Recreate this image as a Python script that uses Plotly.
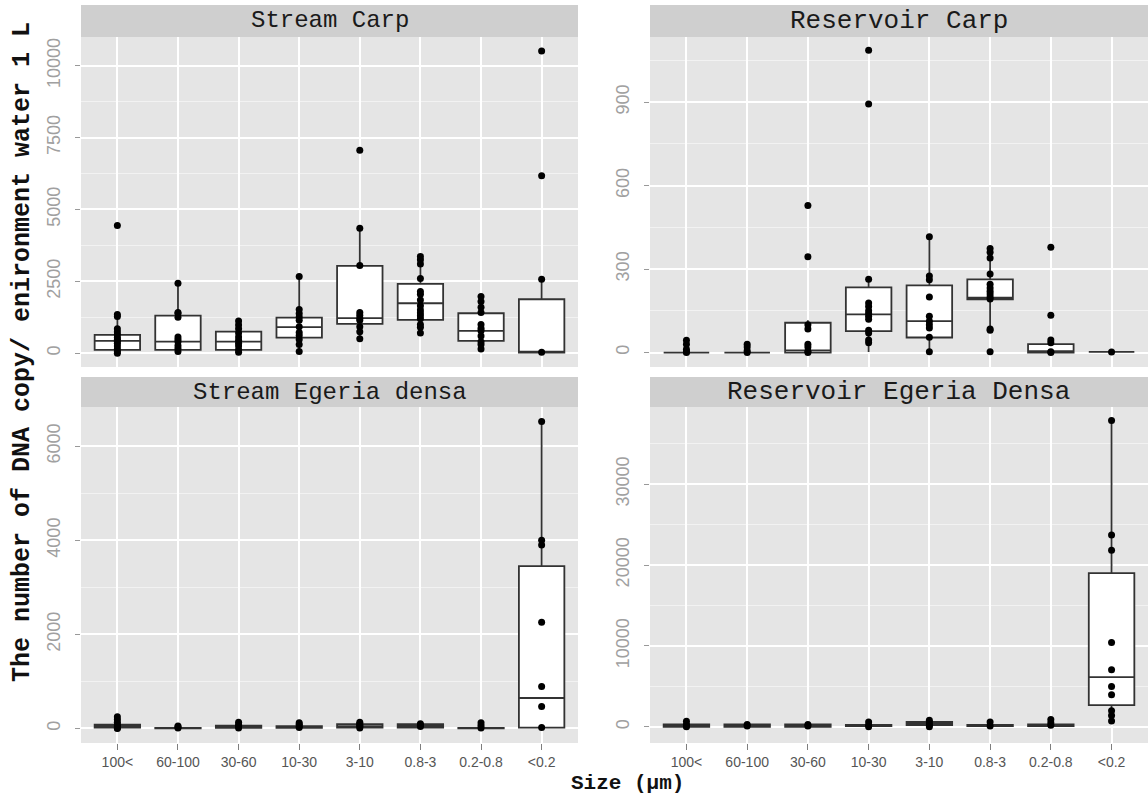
import plotly.graph_objects as go

W, H = 1148, 796

categories = ["100<", "60-100", "30-60", "10-30", "3-10", "0.8-3", "0.2-0.8", "<0.2"]
tick_text = [c.replace("<", "&lt;") for c in categories]

panel_titles = ["Stream Carp", "Reservoir Carp", "Stream Egeria densa", "Reservoir Egeria Densa"]

# ---- Stream Carp ----
sc_q1 = [116, 116, 116, 545, 1020, 1159, 429, 20]
sc_med = [429, 405, 405, 904, 1217, 1738, 776, 30]
sc_q3 = [637, 1309, 753, 1240, 3036, 2410, 1390, 1877]
sc_lo = [0, 50, 0, 58, 500, 695, 116, 0]
sc_hi = [1298, 2433, 1100, 2665, 4345, 3360, 1970, 2572]
sc_pts = [
    [4440, 1350, 1280, 850, 750, 650, 550, 480, 420, 350, 250, 150, 60, 0],
    [2430, 1420, 1380, 1250, 560, 480, 400, 260, 160, 60],
    [1120, 980, 850, 700, 560, 450, 350, 250, 120, 30],
    [2665, 1520, 1380, 1260, 1150, 920, 720, 620, 480, 300, 60],
    [7057, 4345, 3050, 1420, 1320, 1220, 1150, 920, 750, 500],
    [3360, 3250, 3100, 2600, 2150, 2050, 1850, 1650, 1500, 1400, 1300, 1200, 1000, 900, 700],
    [1970, 1800, 1600, 1420, 1000, 870, 780, 600, 400, 300, 150],
    [10510, 6176, 2572, 30],
]

# ---- Reservoir Carp ----
rc_q1 = [0, 0, 0, 77, 54, 191, 0, 2]
rc_med = [0, 0, 8, 137, 113, 197, 5, 2]
rc_q3 = [0, 0, 107, 234, 241, 263, 30, 2]
rc_lo = [0, 0, 0, 2, 2, 85, 0, 2]
rc_hi = [44, 30, 116, 263, 416, 374, 45, 2]
rc_pts = [
    [44, 30, 12, 3, 0],
    [30, 20, 6, 0],
    [528, 344, 100, 85, 30, 20, 5, 0],
    [1086, 893, 263, 178, 165, 150, 140, 130, 120, 80, 70, 45, 35],
    [416, 275, 262, 200, 130, 112, 100, 88, 55, 3],
    [374, 360, 340, 282, 245, 232, 220, 210, 200, 192, 85, 80, 3],
    [378, 134, 45, 35, 3, 0],
    [2],
]

# ---- Stream Egeria densa ----
se_q1 = [15, 0, 10, 10, 15, 20, 0, 15]
se_med = [45, 5, 30, 30, 50, 55, 5, 647]
se_q3 = [80, 10, 60, 50, 90, 90, 10, 3453]
se_lo = [0, 0, 0, 0, 0, 0, 0, 0]
se_hi = [180, 50, 120, 120, 130, 100, 60, 6525]
se_pts = [
    [250, 190, 130, 80, 50, 30, 10, 0],
    [50, 30, 10],
    [130, 80, 40, 10],
    [120, 90, 50, 20],
    [130, 100, 70, 40, 10],
    [100, 70, 40],
    [120, 60, 10],
    [6525, 4000, 3900, 2259, 892, 468, 20],
]

# ---- Reservoir Egeria Densa ----
re_q1 = [0, 0, 0, 100, 200, 100, 100, 2678]
re_med = [100, 100, 100, 200, 400, 200, 200, 6151]
re_q3 = [300, 300, 300, 250, 600, 250, 300, 19000]
re_lo = [0, 0, 0, 0, 0, 0, 0, 711]
re_hi = [700, 300, 300, 600, 800, 600, 900, 37866]
re_pts = [
    [700, 300, 100, 0],
    [300, 100],
    [300, 100],
    [600, 200, 0],
    [800, 500, 200, 0],
    [600, 100],
    [900, 500, 200],
    [37866, 23724, 21840, 10418, 7071, 4979, 3975, 2000, 1400, 711],
]

y_ranges = [[-480, 11000], [-52, 1134], [-310, 6835], [-2000, 39540]]
y_dtick = [2500, 300, 2000, 10000]

panels = [
    (sc_q1, sc_med, sc_q3, sc_lo, sc_hi, sc_pts),
    (rc_q1, rc_med, rc_q3, rc_lo, rc_hi, rc_pts),
    (se_q1, se_med, se_q3, se_lo, se_hi, se_pts),
    (re_q1, re_med, re_q3, re_lo, re_hi, re_pts),
]

# layout in pixels
col_x = [(81, 578), (650, 1148)]
row_plot = [(37, 367), (407, 743)]
row_strip = [(5, 37), (377, 407)]

fig = go.Figure()

MONO = "Liberation Mono, Courier New, monospace"
SANS = "Liberation Sans, Arial, sans-serif"
NARROW = "Liberation Sans Narrow, Arial Narrow, Liberation Sans, sans-serif"

for i, (q1, med, q3, lo, hi, pts) in enumerate(panels):
    r, c = divmod(i, 2)
    sfx = "" if i == 0 else str(i + 1)
    xa, ya = "x" + sfx, "y" + sfx
    fig.add_trace(go.Box(
        x=categories, q1=q1, median=med, q3=q3, lowerfence=lo, upperfence=hi,
        xaxis=xa, yaxis=ya, width=0.75, whiskerwidth=0,
        fillcolor="white", line=dict(color="#333333", width=1.8),
        boxpoints=False, showlegend=False, hoverinfo="skip",
    ))
    xs, ys = [], []
    for cat, vals in zip(categories, pts):
        xs += [cat] * len(vals)
        ys += vals
    fig.add_trace(go.Scatter(
        x=xs, y=ys, mode="markers", xaxis=xa, yaxis=ya,
        marker=dict(color="black", size=7), showlegend=False, hoverinfo="skip",
    ))

    x0, x1 = col_x[c]
    py0, py1 = row_plot[r]
    sy0, sy1 = row_strip[r]
    xdom = [x0 / W, x1 / W]
    ydom = [1 - py1 / H, 1 - py0 / H]

    fig.layout["xaxis" + sfx] = dict(
        domain=xdom, anchor=ya, type="category",
        categoryorder="array", categoryarray=categories,
        range=[-0.6, 7.6], showgrid=True, gridcolor="white", gridwidth=1.5,
        zeroline=False, showline=False,
        tickvals=categories, ticktext=tick_text,
        showticklabels=(r == 1), ticks="outside" if r == 1 else "",
        ticklen=6, tickcolor="#7f7f7f", tickwidth=1.2,
        tickfont=dict(family=NARROW, size=14, color="#555555"),
        automargin=False, fixedrange=True,
    )
    fig.layout["yaxis" + sfx] = dict(
        domain=ydom, anchor=xa, range=y_ranges[i],
        tickmode="linear", tick0=0, dtick=y_dtick[i], tickformat="d",
        showgrid=True, gridcolor="white", gridwidth=1.5,
        minor=dict(dtick=y_dtick[i] / 2, tick0=0, showgrid=True,
                   gridcolor="#F2F2F2", gridwidth=1, ticks=""),
        zeroline=False, showline=False,
        ticks="outside", ticklen=5, tickcolor="#999999", tickwidth=1.2,
        tickangle=-90, ticklabelstandoff=8,
        tickfont=dict(family=SANS, size=18, color="#a0a0a0"),
        automargin=False, fixedrange=True,
    )

    # strip
    fig.add_shape(type="rect", xref="paper", yref="paper",
                  x0=x0 / W, x1=x1 / W, y0=1 - sy1 / H, y1=1 - sy0 / H,
                  fillcolor="#CFCFCF", line=dict(width=0), layer="below")
    fig.add_annotation(text=panel_titles[i], xref="paper", yref="paper",
                       x=(x0 + x1) / 2 / W, y=1 - (sy0 + sy1) / 2 / H,
                       xanchor="center", yanchor="middle", showarrow=False,
                       font=dict(family=MONO, size=24 if c == 0 else 26, color="#1a1a1a"))

# axis titles
fig.add_annotation(text="<b>The number of DNA copy/ enironment water 1 L</b>",
                   xref="paper", yref="paper", x=22 / W, y=1 - 352 / H,
                   xanchor="center", yanchor="middle", textangle=-90, showarrow=False,
                   font=dict(family=MONO, size=25, color="#111111"))
fig.add_annotation(text="<b>Size (µm)</b>",
                   xref="paper", yref="paper", x=628 / W, y=1 - 783 / H,
                   xanchor="center", yanchor="middle", showarrow=False,
                   font=dict(family=MONO, size=21, color="#111111"))

fig.update_layout(
    width=W, height=H, margin=dict(l=0, r=0, t=0, b=0),
    paper_bgcolor="white", plot_bgcolor="#E5E5E5",
    template="none", showlegend=False,
)

fig.write_html("out.html", config={"displayModeBar": False},
               post_script="document.body.style.margin='0';")
